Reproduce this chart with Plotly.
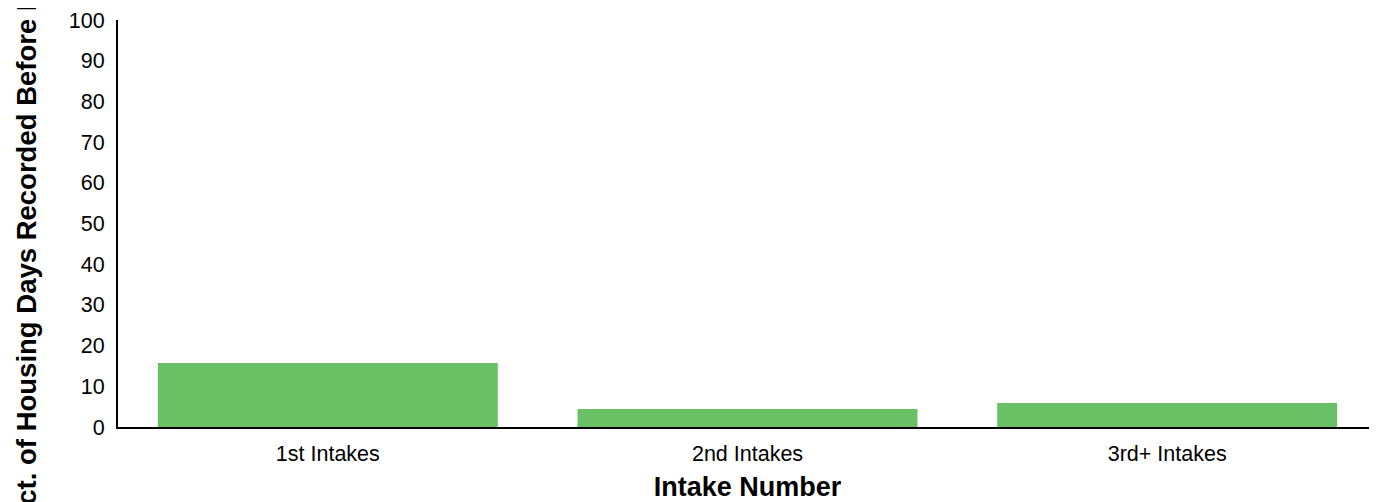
import plotly.graph_objects as go

categories = ["1st Intakes", "2nd Intakes", "3rd+ Intakes"]
pct_before = [15.7, 4.4, 5.9]
y_ticks = list(range(0, 101, 10))

fig = go.Figure()
fig.add_trace(go.Bar(x=categories, y=pct_before, marker=dict(color="#6AC064", line=dict(width=0))))

# page body adds an 8px margin, so the figure is sized to fit the window
fig.update_layout(
    width=1369, height=494,
    margin=dict(l=110, r=0, t=12, b=75),
    plot_bgcolor="white", paper_bgcolor="white",
    bargap=0.19,
    showlegend=False,
    font=dict(family="Liberation Sans, Arial", size=21.5, color="black"),
)
fig.update_xaxes(
    title=dict(text="<b>Intake Number</b>", font=dict(size=27), standoff=18),
    showline=True, linecolor="black", linewidth=2,
    ticks="", tickfont=dict(size=21.5), ticklabelstandoff=6,
    automargin=False,
)
# trailing no-break space nudges the (clipped) title down a little
fig.update_yaxes(
    title=dict(text="<b>Pct. of Housing Days Recorded Before Intake\u00a0</b>",
               font=dict(size=27.5), standoff=24),
    range=[0, 100], tickvals=y_ticks,
    showline=True, linecolor="black", linewidth=2,
    showgrid=False, zeroline=False, ticks="", tickfont=dict(size=21.5),
    ticklabelstandoff=7, automargin=False,
)

fig.write_html("out.html")
